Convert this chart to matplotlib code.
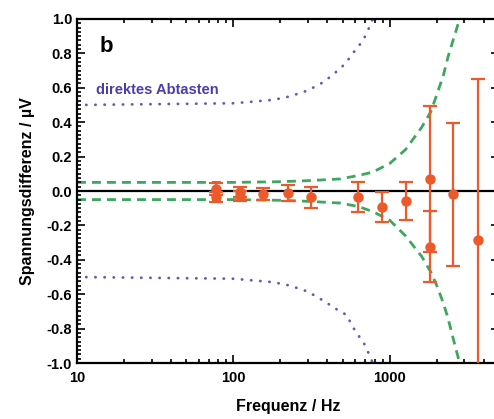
import numpy as np
import matplotlib
matplotlib.use('Agg')
import matplotlib.pyplot as plt
from matplotlib.ticker import FixedLocator, MultipleLocator, NullFormatter

plt.rcParams['font.family'] = ['Liberation Sans', 'DejaVu Sans']
plt.rcParams['font.weight'] = 'bold'

# measured voltage differences (Hz, µV)
freq = [78, 78, 111, 111, 155, 222, 313, 630, 898, 1265, 1800, 1800, 2536, 3660]
diff = [0.01, -0.035, -0.005, -0.03, -0.017, -0.013, -0.035, -0.036, -0.093,
        -0.056, 0.068, -0.324, -0.02, -0.285]
err = [0.035, 0.03, 0.03, 0.028, 0.035, 0.046, 0.061, 0.087, 0.087, 0.11,
       0.425, 0.205, 0.415, 0.935]

# green dashed envelope
green_f = [10, 100, 200, 300, 480, 630, 780, 1000, 1260, 1600, 1830, 2000, 2200,
           2360, 2550, 2800]
green_hi = [0.05, 0.05, 0.054, 0.06, 0.07, 0.09, 0.11, 0.16, 0.24, 0.37, 0.46,
            0.56, 0.67, 0.78, 0.88, 1.0]
green_lo = [-0.05, -0.05, -0.054, -0.06, -0.07, -0.09, -0.12, -0.17, -0.26,
            -0.38, -0.47, -0.55, -0.65, -0.74, -0.86, -1.0]

# purple dotted envelope ("direktes Abtasten")
purple_f = [10, 100, 180, 230, 300, 380, 480, 530, 580, 630, 680, 730, 780]
purple_hi = [0.5, 0.51, 0.53, 0.55, 0.585, 0.635, 0.71, 0.75, 0.80, 0.84, 0.88,
             0.94, 1.0]
purple_lo = [-0.5, -0.51, -0.53, -0.55, -0.585, -0.64, -0.70, -0.72, -0.79,
             -0.84, -0.88, -0.94, -1.0]

yticks = [-1.0, -0.8, -0.6, -0.4, -0.2, 0.0, 0.2, 0.4, 0.6, 0.8, 1.0]
ytick_labels = ['-1.0', '-0.8', '-0.6', '-0.4', '-0.2', '0.0', '0.2', '0.4',
                '0.6', '0.8', '1.0']

orange = '#ec5a2c'
green = '#3fa65e'
purple = '#6b55b5'

fig = plt.figure(figsize=(4.94, 4.19), dpi=100)
ax = fig.add_axes([77 / 494, 1 - 363 / 419, (499 - 77) / 494, (363 - 19) / 419])

ax.axhline(0, color='black', lw=1.6, zorder=2)

ax.plot(purple_f, purple_hi, color=purple, lw=2.0, linestyle=(0, (0.1, 3.2)),
        dash_capstyle='round', zorder=1)
ax.plot(purple_f, purple_lo, color=purple, lw=2.0, linestyle=(0, (0.1, 3.2)),
        dash_capstyle='round', zorder=1)

ax.plot(green_f, green_hi, color=green, lw=2.0, linestyle=(0, (3.2, 2.2)), zorder=1)
ax.plot(green_f, green_lo, color=green, lw=2.0, linestyle=(0, (3.2, 2.2)), zorder=1)

ax.errorbar(freq, diff, yerr=err, fmt='o', color=orange, ms=6.5, elinewidth=1.6,
            capsize=5, capthick=1.6, zorder=3)

ax.set_xscale('log')
ax.set_xlim(10, 5000)
ax.set_ylim(-1.0, 1.0)

ax.xaxis.set_major_locator(FixedLocator([10, 100, 1000]))
ax.xaxis.set_minor_locator(FixedLocator(
    [m * d for d in (10, 100, 1000) for m in range(2, 10)]))
ax.xaxis.set_minor_formatter(NullFormatter())
ax.set_xticklabels(['10', '100', '1000'])
ax.set_yticks(yticks)
ax.set_yticklabels(ytick_labels)
ax.yaxis.set_minor_locator(MultipleLocator(0.025))

ax.tick_params(which='both', direction='in', top=True, right=True,
               labelsize=10.5, width=1.2)
ax.tick_params(which='major', length=6)
ax.tick_params(which='minor', length=3)
ax.tick_params(axis='x', pad=6)
for lab in ax.get_xticklabels() + ax.get_yticklabels():
    lab.set_fontweight('bold')

for s in ax.spines.values():
    s.set_linewidth(1.6)

ax.set_xlabel('Frequenz / Hz', fontsize=11.5, fontweight='bold', labelpad=10)
ax.set_ylabel('Spannungsdifferenz / µV', fontsize=11.5, fontweight='bold', labelpad=8)

ax.text(14, 0.84, 'b', fontsize=16, fontweight='bold', va='center')
ax.text(13.3, 0.59, 'direktes Abtasten', fontsize=10.5, fontweight='bold',
        color='#4b3fa6', va='center')

fig.savefig('out.png', dpi=100)
